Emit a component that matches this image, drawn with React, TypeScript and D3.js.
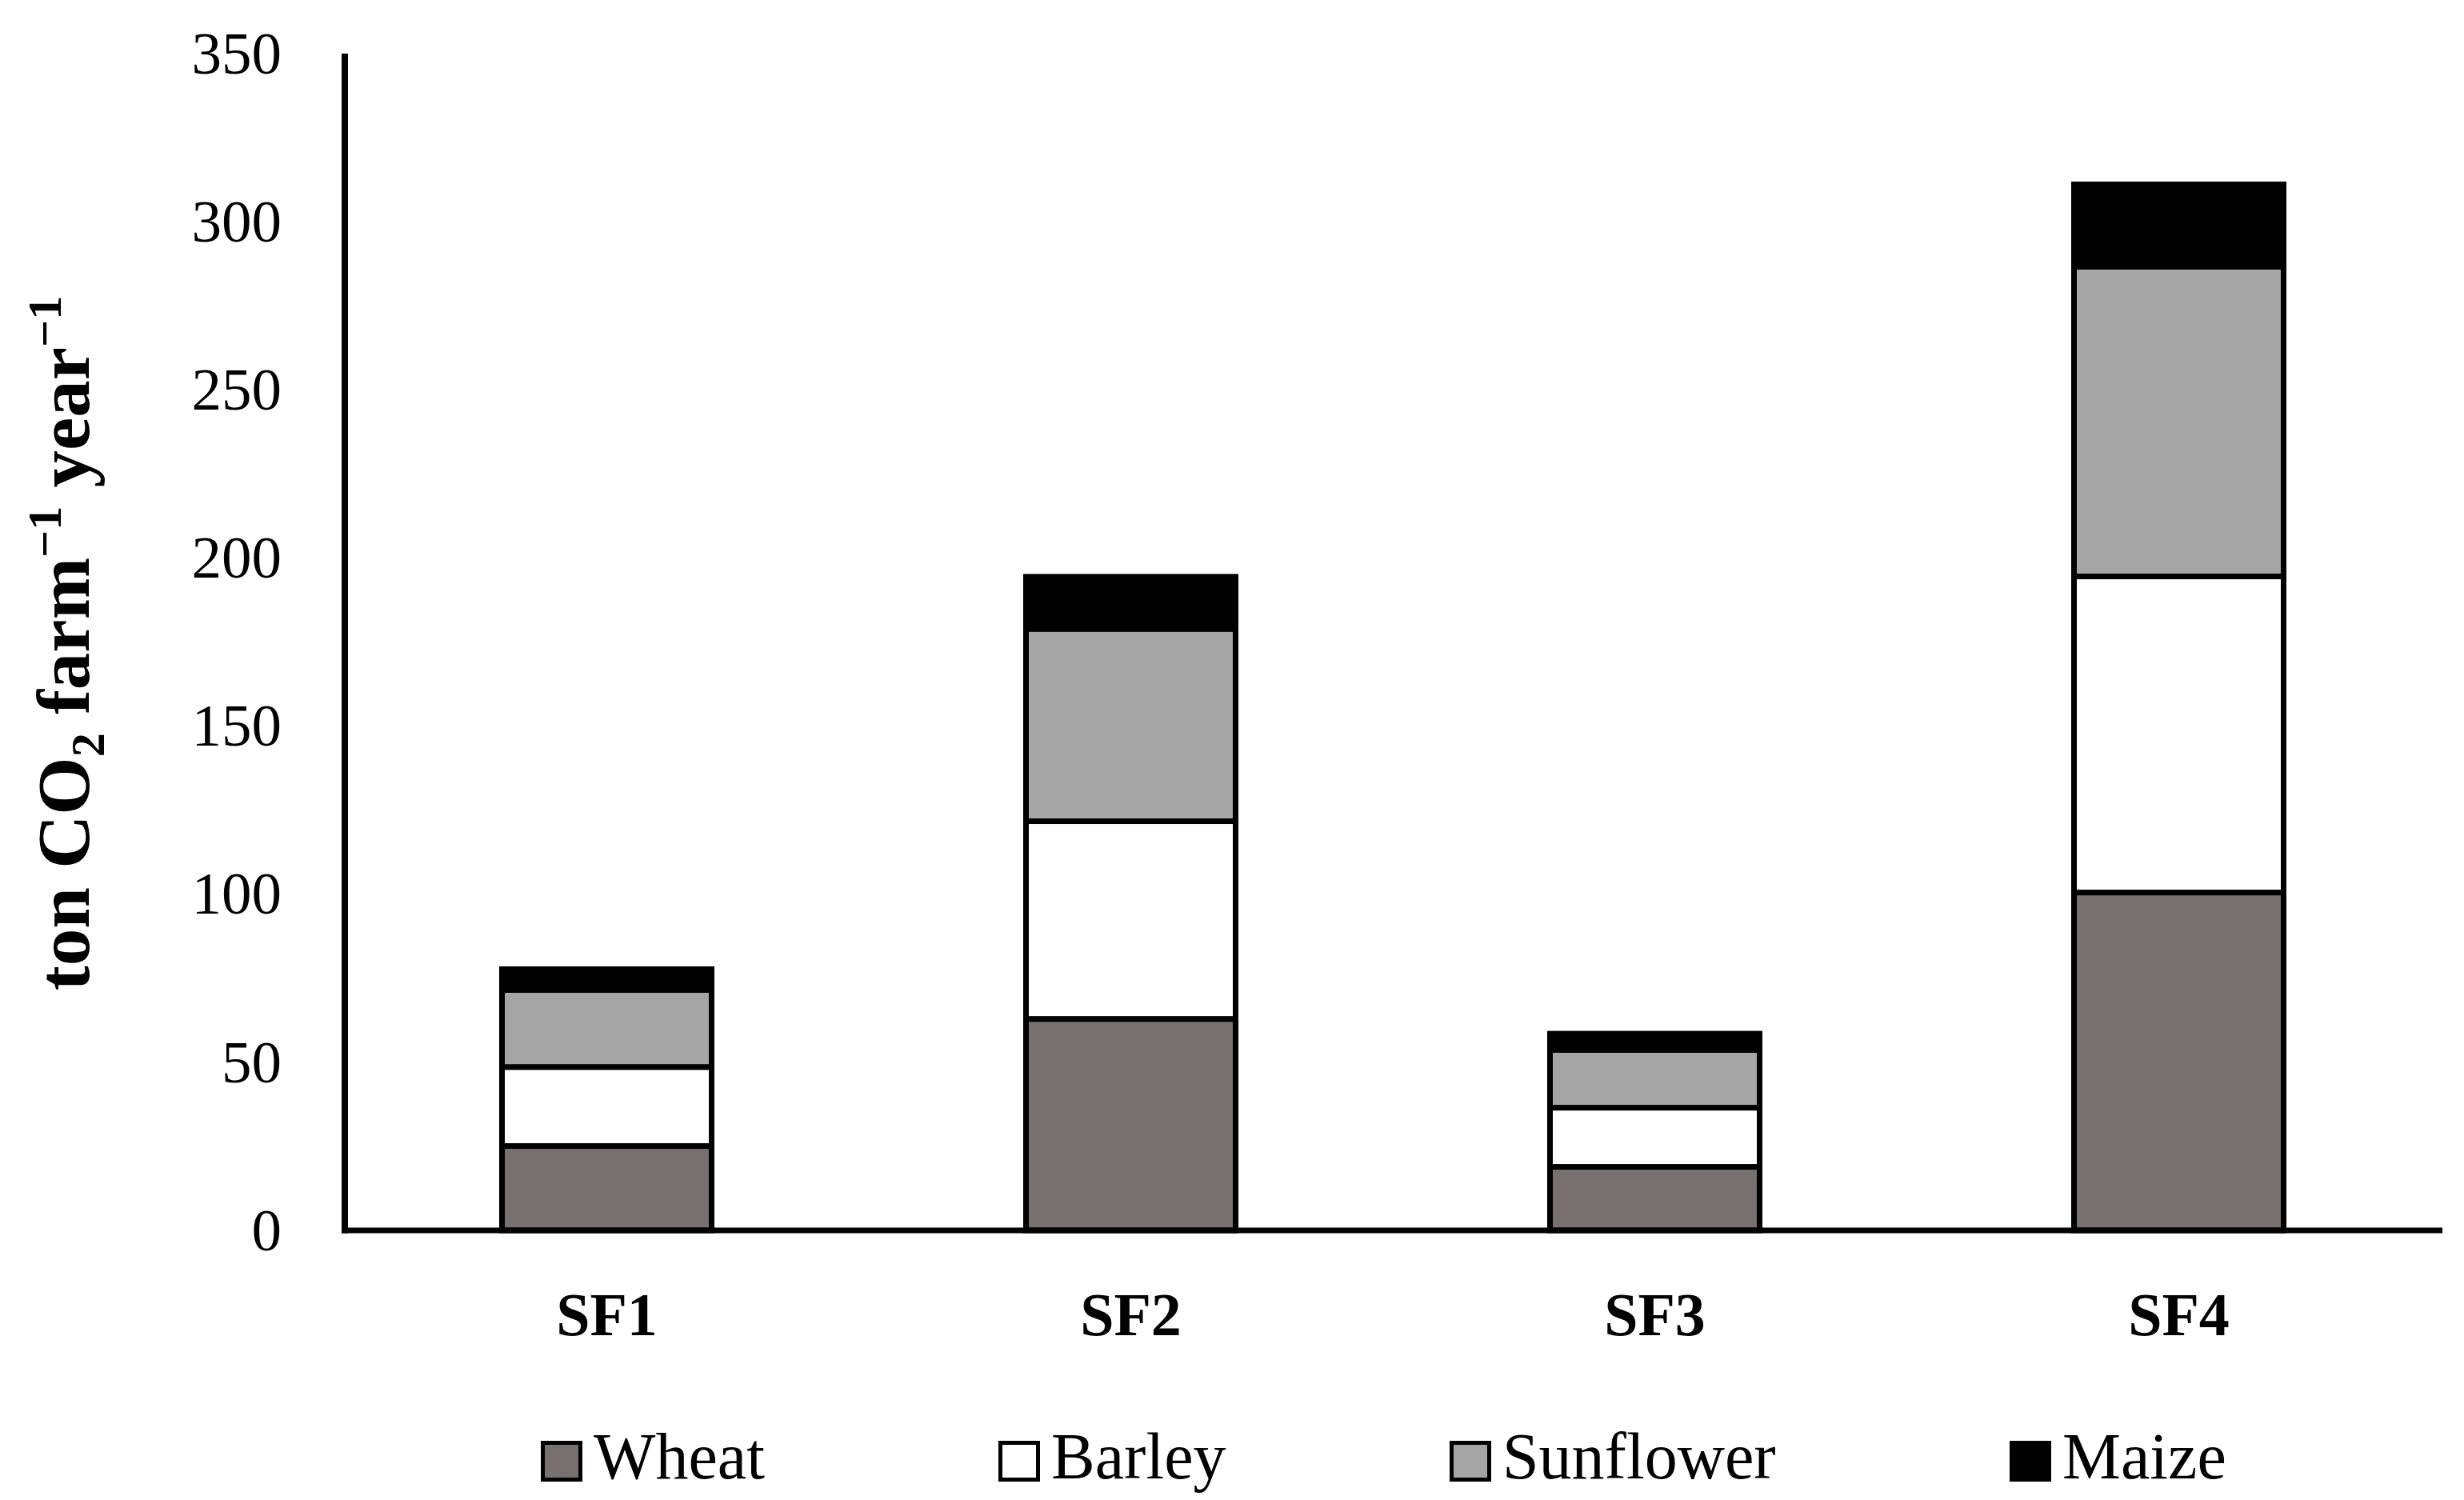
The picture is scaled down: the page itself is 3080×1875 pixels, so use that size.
import React from "react";
import * as d3 from "d3";

const categories = ["SF1", "SF2", "SF3", "SF4"];
const seriesNames = ["Wheat", "Barley", "Sunflower", "Maize"];
const wheat = [25.1, 62.9, 18.9, 100.5];
const barley = [23.5, 58.8, 17.6, 94.0];
const sunflower = [22.9, 57.2, 17.2, 92.1];
const maize = [6.2, 15.5, 4.8, 24.5];
const yTicks = [0, 50, 100, 150, 200, 250, 300, 350];
const colors = ["#767170", "#ffffff", "#a5a5a5", "#000000"];

const W = 3080;
const H = 1875;
const M = { left: 431, right: 3053, top: 67, bottom: 1538 };
const FONT = "'Liberation Serif', 'Times New Roman', serif";
const legendX = [676, 1248, 1812, 2512];

export default function App() {
  const x = d3
    .scaleBand<string>()
    .domain(categories)
    .range([M.left, M.left + 2620])
    .paddingInner(0.6)
    .paddingOuter(0.3);
  const y = d3.scaleLinear().domain([0, 350]).range([M.bottom, M.top]);

  const rows = categories.map((c, i) => ({
    cat: c,
    Wheat: wheat[i],
    Barley: barley[i],
    Sunflower: sunflower[i],
    Maize: maize[i],
  }));
  const stacked = d3.stack<any>().keys(seriesNames)(rows);

  return (
    <svg
      width={W}
      height={H}
      style={{ position: "absolute", left: 0, top: 0, display: "block", background: "#fff" }}
      fontFamily={FONT}
    >
      <rect x={0} y={0} width={W} height={H} fill="#fff" />
      {stacked.map((layer, li) => (
        <g key={layer.key}>
          {layer.map((d: any, i: number) => (
            <rect
              key={i}
              x={x(categories[i])!}
              y={y(d[1])}
              width={x.bandwidth()}
              height={y(d[0]) - y(d[1])}
              fill={colors[li]}
              stroke="#000"
              strokeWidth={7}
            />
          ))}
        </g>
      ))}
      {/* axes */}
      <line x1={M.left} x2={M.left} y1={M.top} y2={M.bottom + 3.5} stroke="#000" strokeWidth={8} />
      <line x1={M.left - 4} x2={M.right} y1={M.bottom} y2={M.bottom} stroke="#000" strokeWidth={7} />
      {yTicks.map((t) => (
        <text key={t} x={352} y={y(t)} dy="0.33em" textAnchor="end" fontSize={75} fill="#000">
          {t}
        </text>
      ))}
      {categories.map((c) => (
        <text
          key={c}
          x={x(c)! + x.bandwidth() / 2}
          y={1669}
          textAnchor="middle"
          fontSize={76}
          fontWeight="bold"
          fill="#000"
        >
          {c}
        </text>
      ))}
      {/* y-axis title */}
      <text
        transform={`translate(111, 804) rotate(-90)`}
        textAnchor="middle"
        fontSize={93}
        fontWeight="bold"
        fill="#000"
      >
        <tspan>ton CO</tspan>
        <tspan fontSize={60} dy={19}>2</tspan>
        <tspan dy={-19}> farm</tspan>
        <tspan fontSize={60} dy={-35}>−1</tspan>
        <tspan dy={35}> year</tspan>
        <tspan fontSize={60} dy={-35}>−1</tspan>
      </text>
      {/* legend */}
      {seriesNames.map((s, i) => (
        <g key={s}>
          <rect
            x={legendX[i] + 2.5}
            y={1803.5}
            width={47}
            height={46}
            fill={colors[i]}
            stroke="#000"
            strokeWidth={5}
          />
          <text x={legendX[i] + 66} y={1848} fontSize={82} fill="#000">
            {s}
          </text>
        </g>
      ))}
    </svg>
  );
}
